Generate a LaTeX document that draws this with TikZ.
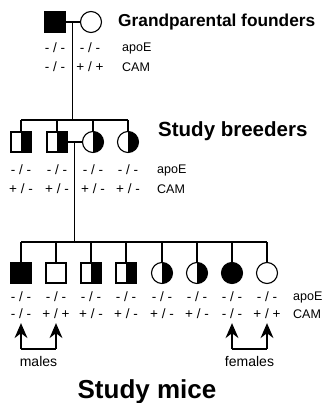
\documentclass[tikz,border=0pt]{standalone}
\usepackage{fontspec}
\setmainfont{Liberation Sans}
\usetikzlibrary{arrows.meta, calc}

\tikzset{
  male/.style={draw, line width=1.1pt, minimum size=20pt, inner sep=0pt},
  female/.style={male, circle, minimum size=21pt},
  affected/.style={fill=black},
  carrier/.style={path picture={\fill[black] (path picture bounding box.north) rectangle (path picture bounding box.south east);}},
  geno/.style={font=\fontsize{13.5}{13.5}\selectfont, inner sep=0pt},
  gene/.style={font=\fontsize{12.5}{12.5}\selectfont, inner sep=0pt, anchor=west},
  link/.style={line width=1.1pt},
  pointer/.style={link, -{Stealth[length=15pt, width=13pt, inset=5pt]}},
}

\begin{document}
\begin{tikzpicture}[x=1pt, y=-1pt]
    \useasboundingbox (0,0) rectangle (328,403);

    % grandparental founders
    \node[male, affected] (gf) at (55,22) {};
    \node[female] (gm) at (91,22) {};
    \draw[link] (gf) -- (gm);
    \node[font=\fontsize{17.3}{18}\selectfont\bfseries, anchor=west, inner sep=0pt] (tgp) at (118,22) {Grandparental founders};
    \node[geno] at (55,48) {- / -};
    \node[geno] at (90,48) {- / -};
    \node[geno] at (55,67) {- / -};
    \node[geno] at (90,67) {+ / +};
    \node[gene] at (122,48) {apoE};
    \node[gene] at (122,67) {CAM};

    % study breeders
    \node[male, carrier] (b1) at (21,142) {};
    \node[male, carrier] (b2) at (57,142) {};
    \node[female, carrier] (b3) at (93,142) {};
    \node[female, carrier] (b4) at (128,142) {};
    \coordinate (gpm) at ($(gf.east)!0.5!(gm.west)$);
    \coordinate (sb) at (gpm |- 0,120);
    \draw[link] (gpm) -- (sb);
    \draw[link] (b1 |- sb) -- (b4 |- sb);
    \foreach \b in {b1,b2,b3,b4}
        \draw[link] (\b |- sb) -- (\b);
    \draw[link] (b2) -- (b3);
    \node[font=\fontsize{20.5}{22}\selectfont\bfseries, anchor=west, inner sep=0pt] (tsb) at (158,131) {Study breeders};
    \foreach \x in {21,57,93,128} {
        \node[geno] at (\x,170) {- / -};
        \node[geno] at (\x,189) {+ / -};
    }
    \node[gene] at (157,170) {apoE};
    \node[gene] at (157,189) {CAM};

    % study mice
    \node[male, affected] (m0) at (21,273) {};
    \node[male] (m1) at (56,273) {};
    \node[male, carrier] (m2) at (91,273) {};
    \node[male, carrier] (m3) at (126,273) {};
    \node[female, carrier] (m4) at (162,273) {};
    \node[female, carrier] (m5) at (197,273) {};
    \node[female, affected] (m6) at (232,273) {};
    \node[female] (m7) at (267,273) {};
    \coordinate (bm) at ($(b2.east)!0.5!(b3.west)$);
    \coordinate (sm) at (bm |- 0,242);
    \draw[link] (bm) -- (sm);
    \draw[link] (m0 |- sm) -- (m7 |- sm);
    \foreach \m in {m0,m1,m2,m3,m4,m5,m6,m7}
        \draw[link] (\m |- sm) -- (\m);
    \foreach \cam [count=\i from 0] in {- / -,+ / +,+ / -,+ / -,+ / -,+ / -,- / -,+ / +} {
        \node[geno] (a\i) at (m\i |- 0,297) {- / -};
        \node[geno] (c\i) at (m\i |- 0,314) {\cam};
    }
    \node[gene] at (293,297) {apoE};
    \node[gene] at (293,314) {CAM};

    % arrows to the study mice
    \coordinate (ml) at (21,349);
    \coordinate (mr) at (56,349);
    \coordinate (fl) at (232,349);
    \coordinate (fr) at (267,349);
    \draw[pointer] (ml) -- ([yshift=-4pt]c0.south);
    \draw[link] (ml) -- (mr);
    \draw[pointer] (mr) -- ([yshift=-4pt]c1.south);
    \draw[pointer] (fl) -- ([yshift=-4pt]c6.south);
    \draw[link] (fl) -- (fr);
    \draw[pointer] (fr) -- ([yshift=-4pt]c7.south);
    \node[font=\fontsize{14}{14}\selectfont, inner sep=0pt] (tm) at ($(ml)!0.5!(mr) + (0,12)$) {males};
    \node[font=\fontsize{14}{14}\selectfont, inner sep=0pt] (tf) at ($(fl)!0.5!(fr) + (0,12)$) {females};
    \node[font=\fontsize{26}{28}\selectfont\bfseries, inner sep=0pt] (tsm) at (147,392) {Study mice};
\end{tikzpicture}
\end{document}
